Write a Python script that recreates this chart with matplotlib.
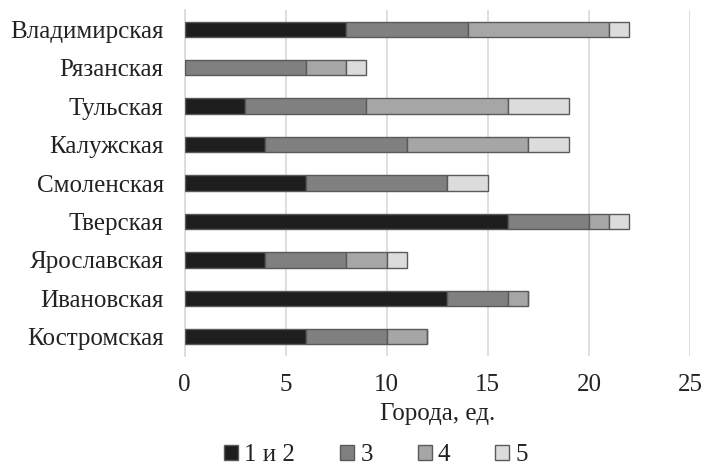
import matplotlib.pyplot as plt
import numpy as np

# regions, top to bottom as shown
regions = ['Владимирская', 'Рязанская', 'Тульская', 'Калужская', 'Смоленская',
           'Тверская', 'Ярославская', 'Ивановская', 'Костромская']

# cities by size group
grp_12 = [8, 0, 3, 4, 6, 16, 4, 13, 6]
grp_3 = [6, 6, 6, 7, 7, 4, 4, 3, 4]
grp_4 = [7, 2, 7, 6, 0, 1, 2, 1, 2]
grp_5 = [1, 1, 3, 2, 2, 1, 1, 0, 0]

series = [('1 и 2', grp_12, '#1e1e1e'),
          ('3', grp_3, '#808080'),
          ('4', grp_4, '#a6a6a6'),
          ('5', grp_5, '#dcdcdc')]

plt.rcParams['font.family'] = ['Liberation Serif', 'DejaVu Serif']

fig = plt.figure(figsize=(7.07, 4.67), dpi=100)
ax = fig.add_axes([184.5 / 707, 1 - 356 / 467, (690 - 184.5) / 707, 346 / 467])

y = np.arange(len(regions))
left = np.zeros(len(regions))
for name, vals, col in series:
    vals = np.array(vals, dtype=float)
    ax.barh(y, vals, left=left, height=0.4, color=col, edgecolor='#5a5a5a',
            linewidth=1.0, label=name, zorder=3)
    left += vals

txt = '#222222'
ax.set_ylim(len(regions) - 0.5, -0.5)
ax.set_xlim(0, 25)
ax.set_xticks([0, 5, 10, 15, 20, 25])
ax.set_yticks(y)
ax.set_yticklabels(regions, fontsize=18, color=txt)
ax.tick_params(axis='x', labelsize=18, labelcolor=txt, length=0, pad=13)
ax.tick_params(axis='y', length=0, pad=15)
ax.grid(axis='x', color='#d9d9d9', linewidth=1.2, zorder=0)
for s in ['top', 'right', 'bottom']:
    ax.spines[s].set_visible(False)
ax.spines['left'].set_color('#d9d9d9')
ax.spines['left'].set_linewidth(1.2)

ax.set_xlabel('Города, ед.', fontsize=18, color=txt, labelpad=5)

fig.legend(loc='lower center', bbox_to_anchor=(0.532, -0.047), ncol=4, frameon=False,
           fontsize=18, handlelength=0.55, handleheight=0.55, handletextpad=0.25,
           columnspacing=1.8, labelcolor=txt)

fig.savefig('out.png', dpi=100)
